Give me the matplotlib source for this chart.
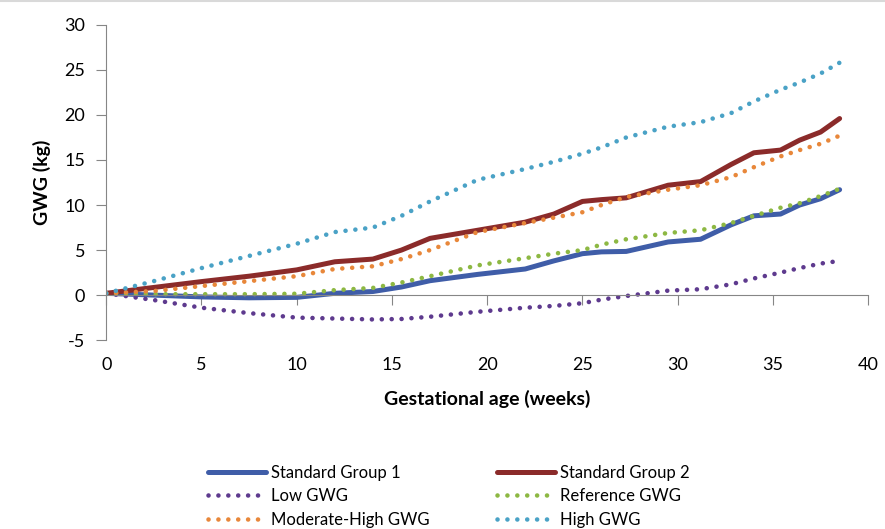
import matplotlib
matplotlib.use("Agg")
import matplotlib.pyplot as plt
from matplotlib.lines import Line2D

plt.rcParams['font.family'] = ['Lato', 'DejaVu Sans']
plt.rcParams['axes.unicode_minus'] = False

# Gestational age (weeks) and GWG (kg)
weeks = [0, 2.5, 5, 7.5, 10, 12, 14, 15.5, 17, 19.5, 22, 23.5, 25, 26, 27.3,
         29.5, 31.2, 32.8, 34, 35.4, 36.4, 37.5, 38.5]
standard_1 = [0.2, 0.0, -0.2, -0.3, -0.25, 0.2, 0.4, 0.9, 1.6, 2.3, 2.9, 3.8, 4.6, 4.8, 4.85,
              5.9, 6.2, 7.8, 8.8, 9.0, 10.0, 10.7, 11.7]
standard_2 = [0.2, 0.85, 1.5, 2.1, 2.8, 3.7, 4.0, 5.0, 6.3, 7.2, 8.1, 9.0, 10.4, 10.6, 10.8,
              12.2, 12.6, 14.5, 15.8, 16.1, 17.2, 18.1, 19.6]
low_gwg = [0.2, -0.55, -1.4, -2.0, -2.5, -2.6, -2.7, -2.65, -2.4, -1.85, -1.4, -1.2, -0.9, -0.5, -0.1,
           0.5, 0.65, 1.2, 1.85, 2.5, 3.0, 3.5, 3.8]
reference_gwg = [0.2, 0.1, 0.1, 0.1, 0.15, 0.55, 0.8, 1.4, 2.1, 3.3, 4.1, 4.6, 5.0, 5.6, 6.2,
                 6.9, 7.2, 8.0, 8.8, 9.7, 10.2, 11.0, 11.8]
mod_high_gwg = [0.2, 0.45, 1.0, 1.55, 2.1, 2.9, 3.2, 4.0, 5.0, 7.0, 8.0, 8.6, 9.2, 10.0, 10.9,
                11.7, 12.2, 13.1, 14.2, 15.4, 16.1, 16.8, 17.7]
high_gwg = [0.2, 1.55, 3.0, 4.35, 5.7, 7.0, 7.5, 8.8, 10.4, 12.8, 14.0, 14.8, 15.7, 16.4, 17.5,
            18.7, 19.2, 20.2, 21.5, 22.8, 23.6, 24.6, 25.8]

x_ticks = [0, 5, 10, 15, 20, 25, 30, 35, 40]
y_ticks = [-5, 0, 5, 10, 15, 20, 25, 30]

fig = plt.figure(figsize=(8.85, 5.29), dpi=100)
ax = fig.add_axes([0.12, 0.357, 0.861, 0.596])

dot = dict(linestyle=(0, (0.01, 2.15)), dash_capstyle='round', linewidth=3.3)
solid = dict(linewidth=3.6, solid_capstyle='round', solid_joinstyle='round')
h1, = ax.plot(weeks, standard_1, color='#3F5DA8', label='Standard Group 1', **solid)
h2, = ax.plot(weeks, standard_2, color='#8B2B2A', label='Standard Group 2', **solid)
h3, = ax.plot(weeks, low_gwg, color='#5E3A8E', label='Low GWG', **dot)
h4, = ax.plot(weeks, reference_gwg, color='#8DB843', label='Reference GWG', **dot)
h5, = ax.plot(weeks, mod_high_gwg, color='#E8873A', label='Moderate-High GWG', **dot)
h6, = ax.plot(weeks, high_gwg, color='#4AA2C6', label='High GWG', **dot)

ax.set_xlim(0, 40)
ax.set_ylim(-5, 30)
ax.set_yticks(y_ticks)
ax.set_xticks(x_ticks)

gray = '#868686'
for s in ['top', 'right']:
    ax.spines[s].set_visible(False)
ax.spines['left'].set_color(gray)
ax.spines['bottom'].set_color(gray)
ax.spines['bottom'].set_position(('data', 0))
ax.tick_params(axis='y', direction='out', length=7, color=gray, labelsize=13, pad=8)
ax.tick_params(axis='x', direction='out', length=7, color=gray, labelbottom=False)

# tick labels sit below the plot, like the Excel "low" label position
sec = ax.secondary_xaxis('bottom')
sec.set_xticks(x_ticks)
sec.spines['bottom'].set_visible(False)
sec.tick_params(length=0, labelsize=13, pad=12)
sec.set_xlabel('Gestational age (weeks)', fontsize=14, fontweight='bold', labelpad=12)

ax.set_ylabel('GWG (kg)', fontsize=14, fontweight='bold', labelpad=10)

order = [h1, h3, h5, h2, h4, h6]
fig.legend(order, [h.get_label() for h in order],
           loc='upper center', bbox_to_anchor=(0.507, 0.15), ncol=2,
           frameon=False, fontsize=12, handlelength=3.5, handletextpad=0.3,
           columnspacing=4.0, labelspacing=0.45)

fig.add_artist(Line2D([0, 1], [0.998, 0.998], color='#D9D9D9', linewidth=1.5))

fig.savefig('out.png', dpi=100)
